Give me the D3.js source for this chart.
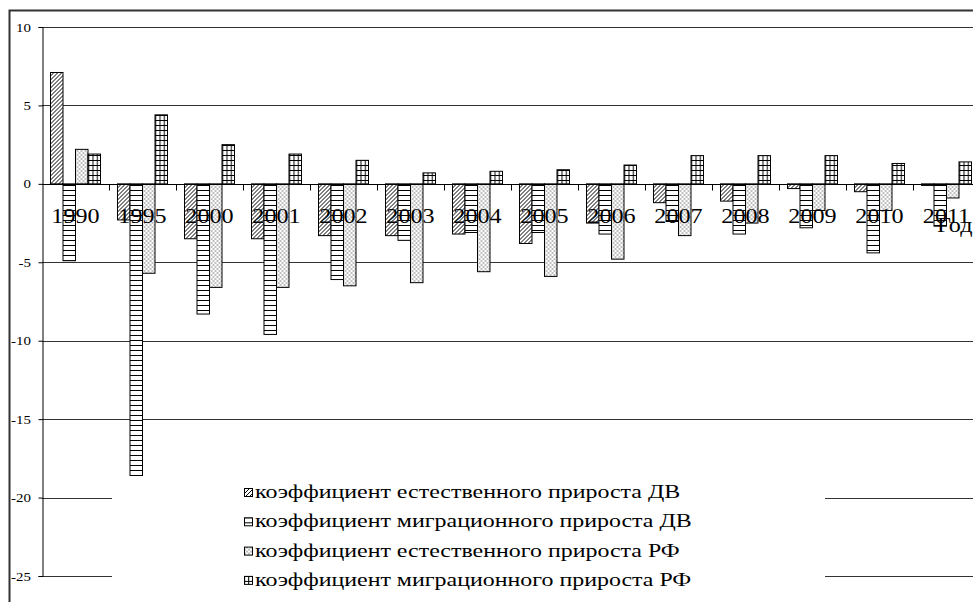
<!DOCTYPE html>
<html>
<head>
<meta charset="utf-8">
<style>
  body { margin: 0; background: #fff; }
</style>
</head>
<body>
<svg id="chart" width="973" height="602"></svg>

<script src="https://d3js.org/d3.v7.min.js"></script>
<script>
  // years on the x axis
  const years = ['1990', '1995', '2000', '2001', '2002', '2003', '2004',
                 '2005', '2006', '2007', '2008', '2009', '2010', '2011']

  // four series
  const natDV = [7.1, -2.3, -3.5, -3.5, -3.3, -3.3, -3.2, -3.8, -2.5, -1.2, -1.1, -0.3, -0.5, -0.1]
  const migDV = [-4.9, -18.7, -8.3, -9.6, -6.1, -3.6, -3.1, -3.1, -3.2, -2.4, -3.2, -2.8, -4.4, -2.7]
  const natRF = [2.2, -5.7, -6.6, -6.6, -6.5, -6.3, -5.6, -5.9, -4.8, -3.3, -2.5, -1.7, -1.7, -0.9]
  const migRF = [1.9, 4.4, 2.5, 1.9, 1.5, 0.7, 0.8, 0.9, 1.2, 1.8, 1.8, 1.8, 1.3, 1.4]

  const seriesNames = [
    'коэффициент естественного прироста ДВ',
    'коэффициент миграционного прироста ДВ',
    'коэффициент естественного прироста РФ',
    'коэффициент миграционного прироста РФ'
  ]
  const yTicks = [10, 5, 0, -5, -10, -15, -20, -25]
  const xTitle = 'Год'

  const series = [natDV, migDV, natRF, migRF]
  const patternIds = ['hatch', 'hlines', 'dots', 'grid']
  const serif = '"Liberation Serif", "Times New Roman", serif'

  const svg = d3.select('#chart')
  const defs = svg.append('defs')

  // fill patterns (black and white chart)
  const hatch = defs.append('pattern').attr('id', 'hatch')
    .attr('patternUnits', 'userSpaceOnUse').attr('width', 4).attr('height', 4)
  hatch.append('rect').attr('width', 4).attr('height', 4).attr('fill', '#fff')
  hatch.append('path').attr('d', 'M-1,1 l2,-2 M0,4 l4,-4 M3,5 l2,-2')
    .attr('stroke', '#000').attr('stroke-width', 1)

  const hl = defs.append('pattern').attr('id', 'hlines')
    .attr('patternUnits', 'userSpaceOnUse').attr('width', 5).attr('height', 5)
  hl.append('rect').attr('width', 5).attr('height', 5).attr('fill', '#fff')
  hl.append('line').attr('x1', 0).attr('x2', 5).attr('y1', 0.5).attr('y2', 0.5)
    .attr('stroke', '#000').attr('stroke-width', 1)

  const dots = defs.append('pattern').attr('id', 'dots')
    .attr('patternUnits', 'userSpaceOnUse').attr('width', 4).attr('height', 4)
  dots.append('rect').attr('width', 4).attr('height', 4).attr('fill', '#fff')
  dots.append('rect').attr('x', 0.5).attr('y', 0.5).attr('width', 1).attr('height', 1).attr('fill', '#000')
  dots.append('rect').attr('x', 2.5).attr('y', 2.5).attr('width', 1).attr('height', 1).attr('fill', '#000')

  const grid = defs.append('pattern').attr('id', 'grid')
    .attr('patternUnits', 'userSpaceOnUse').attr('width', 4.2).attr('height', 5)
  grid.append('rect').attr('width', 4.2).attr('height', 5).attr('fill', '#fff')
  grid.append('path').attr('d', 'M0.5,0 V5 M0,0.5 H4.2')
    .attr('stroke', '#000').attr('stroke-width', 1)

  // outer frame of the chart area
  svg.append('rect')
    .attr('x', 9.5).attr('y', 10.5).attr('width', 1000).attr('height', 700)
    .attr('fill', 'none').attr('stroke', '#333').attr('stroke-width', 2)

  const left = 42, right = 980
  const yScale = d3.scaleLinear().domain([-25, 10]).range([576, 27])

  const xScale = d3.scaleBand()
    .domain(years)
    .range([left, right])
    .paddingInner(0.254)
    .paddingOuter(0.127)

  const xSub = d3.scaleBand()
    .domain(d3.range(series.length))
    .range([0, xScale.bandwidth()])

  // horizontal gridlines
  svg.append('g').selectAll('line')
    .data(yTicks.filter(d => d !== 0))
    .enter().append('line')
    .attr('x1', left).attr('x2', right)
    .attr('y1', d => Math.round(yScale(d)) + 0.5)
    .attr('y2', d => Math.round(yScale(d)) + 0.5)
    .attr('stroke', '#333').attr('stroke-width', 1)

  // bars
  years.forEach((yr, i) => {
    const g = svg.append('g').attr('transform', `translate(${xScale(yr)},0)`)
    series.forEach((s, k) => {
      const v = s[i]
      g.append('rect')
        .attr('x', xSub(k))
        .attr('y', yScale(Math.max(0, v)))
        .attr('width', xSub.bandwidth())
        .attr('height', Math.abs(yScale(v) - yScale(0)))
        .attr('fill', `url(#${patternIds[k]})`)
        .attr('stroke', '#000').attr('stroke-width', 1)
    })
  })

  // y axis
  const yAxis = d3.axisLeft(yScale)
    .tickValues(yTicks)
    .tickSize(4)
    .tickFormat(d => String(d))
  const yG = svg.append('g').attr('transform', `translate(${left + 0.5},0)`).call(yAxis)
  yG.select('.domain').attr('stroke', '#000')
  yG.selectAll('.tick line').attr('stroke', '#000')
  yG.selectAll('.tick text').remove()

  svg.append('g').selectAll('text')
    .data(yTicks)
    .enter().append('text')
    .attr('transform', d => `translate(31,${yScale(d)}) scale(1.15,1)`)
    .attr('text-anchor', 'end')
    .attr('dy', '0.35em')
    .style('font-family', serif)
    .attr('font-size', 13)
    .text(d => String(d))

  // zero line with category ticks on the boundaries
  const y0 = Math.round(yScale(0)) + 0.5
  svg.append('line')
    .attr('x1', left).attr('x2', right).attr('y1', y0).attr('y2', y0)
    .attr('stroke', '#000')
  svg.append('g').selectAll('line')
    .data(years)
    .enter().append('line')
    .attr('x1', d => Math.round(xScale(d) - xScale.step() * xScale.paddingOuter() + xScale.step()) + 0.5)
    .attr('x2', d => Math.round(xScale(d) - xScale.step() * xScale.paddingOuter() + xScale.step()) + 0.5)
    .attr('y1', y0).attr('y2', y0 + 6)
    .attr('stroke', '#000')

  // year labels
  svg.append('g').selectAll('text')
    .data(years)
    .enter().append('text')
    .attr('transform', d => `translate(${xScale(d) + xScale.bandwidth() / 2},${yScale(0) + 39}) scale(1.15,1)`)
    .attr('text-anchor', 'middle')
    .style('font-family', serif)
    .attr('font-size', 21)
    .text(d => d)

  svg.append('text')
    .attr('transform', `translate(937,${yScale(0) + 48}) scale(1.15,1)`)
    .style('font-family', serif)
    .attr('font-size', 21)
    .text(xTitle)

  // legend
  const legend = svg.append('g')
  legend.append('rect')
    .attr('x', 112).attr('y', 476).attr('width', 713).attr('height', 130)
    .attr('fill', '#fff')
  const rows = legend.selectAll('g.row')
    .data(seriesNames)
    .enter().append('g').attr('class', 'row')
    .attr('transform', (d, i) => `translate(244,${498 + i * 29.3})`)
  rows.append('rect')
    .attr('x', 0.5).attr('y', -9.5).attr('width', 8).attr('height', 8)
    .attr('fill', (d, i) => `url(#${patternIds[i]})`)
    .attr('stroke', '#000').attr('stroke-width', 1)
  rows.append('text')
    .attr('transform', 'translate(11,0) scale(1.33,1)')
    .style('font-family', serif)
    .attr('font-size', 18)
    .text(d => d)
</script>
</body>
</html>
